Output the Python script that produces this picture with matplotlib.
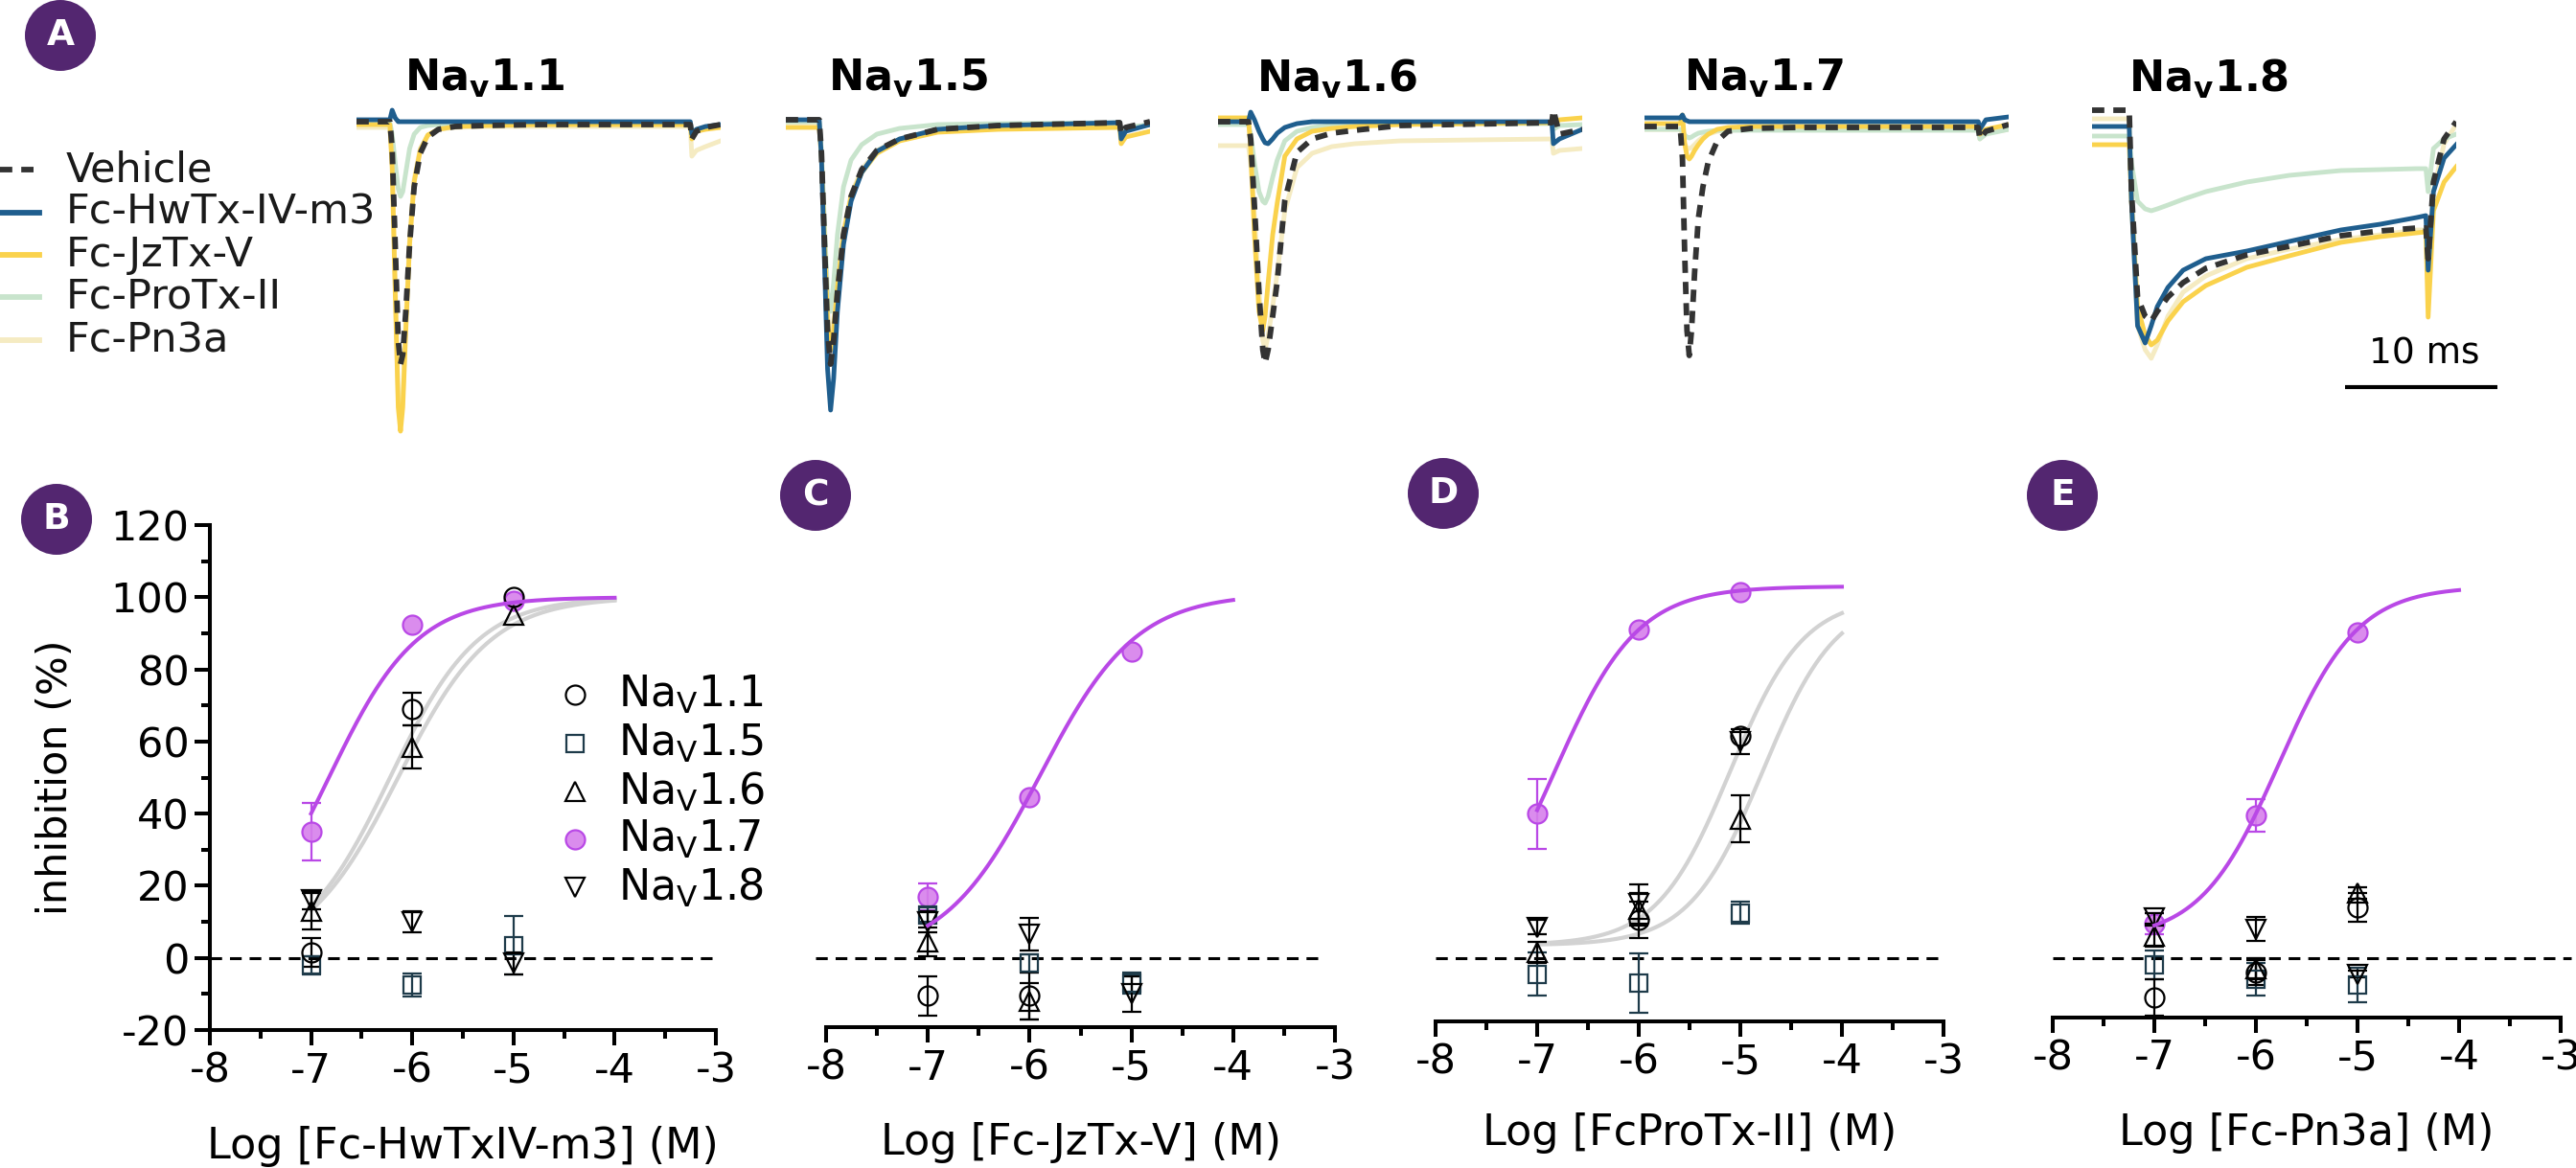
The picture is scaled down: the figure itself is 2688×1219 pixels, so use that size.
import numpy as np
import matplotlib
matplotlib.use('Agg')
import matplotlib.pyplot as plt
from matplotlib.lines import Line2D
from matplotlib.patches import Ellipse

W, H = 2688, 1219
plt.rcParams['font.family'] = ['DejaVu Sans']
plt.rcParams['mathtext.fontset'] = 'dejavusans'
plt.rcParams['axes.unicode_minus'] = False

# ---------------- Panel A: current traces (ms, normalised current) ----------------
trace_labels = ['Vehicle', 'Fc-HwTx-IV-m3', 'Fc-JzTx-V', 'Fc-ProTx-II', 'Fc-Pn3a']
channels = ['1.1', '1.5', '1.6', '1.7', '1.8']

t11 = [0, 2.2, 2.35, 2.55, 2.75, 2.9, 3.05, 3.25, 3.5, 3.8, 4.2, 4.7, 5.4, 6.5, 8.5, 12, 22.0, 22.1, 22.4, 23, 24]
nav11_vehicle = [-0.02, -0.02, -0.3, -1.3, -2.3, -2.55, -2.45, -2.0, -1.3, -0.7, -0.35, -0.18, -0.1, -0.07, -0.06, -0.05, -0.05, -0.2, -0.12, -0.08, -0.05]
nav11_hwtx = [0.0, 0.0, 0.1, 0.02, -0.02, -0.02, -0.02, -0.02, -0.02, -0.02, -0.02, -0.02, -0.02, -0.02, -0.02, -0.02, -0.02, -0.15, -0.1, -0.07, -0.05]
nav11_jztx = [-0.05, -0.05, -0.5, -1.8, -3.0, -3.25, -3.0, -2.2, -1.3, -0.65, -0.32, -0.16, -0.1, -0.07, -0.06, -0.05, -0.05, -0.2, -0.12, -0.1, -0.08]
nav11_protx = [-0.03, -0.03, -0.15, -0.45, -0.72, -0.8, -0.75, -0.55, -0.3, -0.15, -0.08, -0.06, -0.05, -0.04, -0.04, -0.04, -0.04, -0.15, -0.1, -0.08, -0.06]
nav11_pn3a = [-0.08, -0.08, -0.45, -1.7, -2.9, -3.15, -2.9, -2.1, -1.25, -0.62, -0.3, -0.16, -0.1, -0.08, -0.07, -0.07, -0.07, -0.38, -0.32, -0.28, -0.22]

t15 = [0, 2.2, 2.35, 2.55, 2.75, 2.95, 3.15, 3.4, 3.8, 4.3, 5.0, 6.0, 7.5, 10, 14, 22.0, 22.1, 22.4, 24]
nav15_vehicle = [0.0, 0.0, -0.35, -1.3, -2.2, -2.55, -2.3, -1.8, -1.2, -0.8, -0.52, -0.32, -0.2, -0.1, -0.06, -0.03, -0.15, -0.08, -0.02]
nav15_hwtx = [0.0, 0.0, -0.4, -1.5, -2.6, -3.03, -2.7, -2.0, -1.3, -0.85, -0.55, -0.33, -0.2, -0.1, -0.06, -0.03, -0.2, -0.12, -0.05]
nav15_jztx = [-0.08, -0.08, -0.4, -1.3, -2.1, -2.4, -2.2, -1.75, -1.2, -0.8, -0.55, -0.35, -0.22, -0.13, -0.1, -0.08, -0.25, -0.18, -0.12]
nav15_protx = [-0.02, -0.02, -0.35, -1.1, -1.8, -2.0, -1.7, -1.2, -0.7, -0.42, -0.26, -0.15, -0.09, -0.05, -0.04, -0.03, -0.15, -0.08, -0.05]
nav15_pn3a = [-0.03, -0.03, -0.35, -1.2, -2.0, -2.3, -2.1, -1.7, -1.15, -0.78, -0.52, -0.32, -0.2, -0.1, -0.06, -0.04, -0.15, -0.1, -0.05]

t16 = [0, 2.0, 2.15, 2.4, 2.7, 2.95, 3.1, 3.3, 3.6, 3.9, 4.4, 5.2, 6.2, 7.5, 9, 12, 22.0, 22.1, 22.5, 24]
nav16_vehicle = [-0.02, -0.02, -0.2, -0.9, -1.8, -2.4, -2.54, -2.4, -2.05, -1.69, -0.84, -0.34, -0.2, -0.14, -0.11, -0.06, -0.03, 0.1, -0.15, -0.1]
nav16_hwtx = [-0.02, -0.02, 0.08, 0.0, -0.12, -0.2, -0.24, -0.25, -0.2, -0.14, -0.08, -0.04, -0.02, -0.02, -0.02, -0.02, -0.02, -0.25, -0.2, -0.1]
nav16_jztx = [0.02, 0.02, -0.3, -1.2, -2.0, -2.2, -2.05, -1.7, -1.2, -0.87, -0.38, -0.2, -0.12, -0.09, -0.07, -0.05, -0.03, -0.05, 0.0, 0.02]
nav16_protx = [-0.05, -0.05, -0.15, -0.45, -0.75, -0.85, -0.87, -0.8, -0.6, -0.42, -0.22, -0.12, -0.08, -0.06, -0.05, -0.04, -0.04, -0.1, -0.06, -0.05]
nav16_pn3a = [-0.27, -0.27, -0.45, -1.0, -1.8, -2.3, -2.4, -2.25, -1.95, -1.6, -0.95, -0.5, -0.35, -0.28, -0.25, -0.22, -0.2, -0.35, -0.32, -0.3]

t17 = [0, 2.35, 2.5, 2.65, 2.8, 2.95, 3.1, 3.3, 3.55, 3.85, 4.2, 4.8, 5.5, 7, 10, 22.0, 22.1, 22.5, 24]
nav17_vehicle = [-0.07, -0.07, -0.4, -1.4, -2.2, -2.46, -2.2, -1.6, -1.03, -0.7, -0.44, -0.22, -0.12, -0.09, -0.08, -0.08, -0.2, -0.12, -0.05]
nav17_hwtx = [0.02, 0.02, 0.05, 0.0, -0.01, -0.02, -0.02, -0.02, -0.02, -0.02, -0.02, -0.02, -0.02, -0.02, -0.02, -0.02, -0.1, 0.0, 0.03]
nav17_jztx = [-0.04, -0.04, 0.05, -0.25, -0.38, -0.41, -0.38, -0.32, -0.26, -0.2, -0.15, -0.1, -0.08, -0.07, -0.07, -0.07, -0.15, -0.1, -0.05]
nav17_protx = [-0.1, -0.1, -0.12, -0.16, -0.18, -0.19, -0.18, -0.16, -0.14, -0.13, -0.12, -0.11, -0.11, -0.11, -0.11, -0.11, -0.2, -0.15, -0.1]
nav17_pn3a = [-0.1, -0.1, -0.15, -0.25, -0.3, -0.3, -0.29, -0.26, -0.22, -0.18, -0.15, -0.12, -0.11, -0.1, -0.1, -0.1, -0.2, -0.14, -0.1]

t18 = [0, 2.45, 2.6, 3.0, 3.5, 3.9, 4.3, 5.0, 6.0, 7.5, 10.2, 13, 16.4, 19, 21.4, 22.0, 22.15, 22.5, 23.2, 24]
nav18_vehicle = [0.1, 0.1, -0.75, -1.85, -2.05, -2.1, -2.0, -1.85, -1.7, -1.55, -1.41, -1.32, -1.21, -1.16, -1.13, -1.13, -1.45, -0.65, -0.2, -0.02]
nav18_hwtx = [-0.07, -0.07, -0.85, -2.15, -2.33, -2.15, -1.95, -1.75, -1.57, -1.45, -1.37, -1.27, -1.15, -1.09, -1.02, -1.0, -1.57, -0.75, -0.4, -0.26]
nav18_jztx = [-0.26, -0.26, -0.85, -1.95, -2.25, -2.35, -2.3, -2.1, -1.9, -1.73, -1.54, -1.42, -1.28, -1.22, -1.18, -1.17, -2.06, -0.95, -0.65, -0.49]
nav18_protx = [-0.17, -0.17, -0.45, -0.85, -0.93, -0.95, -0.93, -0.89, -0.83, -0.75, -0.65, -0.58, -0.53, -0.52, -0.51, -0.51, -0.75, -0.3, -0.2, -0.15]
nav18_pn3a = [0.01, 0.01, -0.85, -2.15, -2.4, -2.49, -2.35, -2.05, -1.8, -1.63, -1.45, -1.35, -1.25, -1.2, -1.15, -1.15, -1.55, -0.75, -0.25, -0.05]

# ---------------- Panels B-E: concentration-response ----------------
log_conc = [-7, -6, -5]
nan = np.nan
# B: Fc-HwTxIV-m3
B_nav11 = [1.6, 69, 100];    B_nav11_sem = [4, 4.5, nan]
B_nav15 = [-2, -7.5, 3.5];   B_nav15_sem = [2.5, 3.3, 8]
B_nav16 = [13, 58.5, 95];    B_nav16_sem = [5, 6, nan]
B_nav17 = [35, 92.5, 99];    B_nav17_sem = [8, nan, nan]
B_nav18 = [16, 10, -1.5];    B_nav18_sem = [2.5, 3, 3]
# C: Fc-JzTx-V
C_nav11 = [-10.5, -10.5, nan]; C_nav11_sem = [5.5, 6.5, nan]
C_nav15 = [12, -1.5, -7];      C_nav15_sem = [2, 2.5, 3]
C_nav16 = [4.5, -12, nan];     C_nav16_sem = [4, 5, nan]
C_nav17 = [17, 44.5, 85];      C_nav17_sem = [3.7, nan, nan]
C_nav18 = [10, 6.5, -10];      C_nav18_sem = [3, 4.5, 5]
# D: Fc-ProTx-II
D_nav11 = [nan, 10.5, 61.5];   D_nav11_sem = [nan, 5, nan]
D_nav15 = [-4.5, -7, 12.5];    D_nav15_sem = [6, 8.3, 3]
D_nav16 = [1.5, 13.5, 38.5];   D_nav16_sem = [3, 4.5, 6.5]
D_nav17 = [40, 91, 101.3];     D_nav17_sem = [9.7, nan, nan]
D_nav18 = [8.5, 15, 60];       D_nav18_sem = [2, 5.5, 3.5]
# E: Fc-Pn3a
E_nav11 = [-11, -4, 14];       E_nav11_sem = [5, 3.5, 4]
E_nav15 = [-2, -6, -7.5];      E_nav15_sem = [4, 4.5, 4.7]
E_nav16 = [6, -3, 18];         E_nav16_sem = [3, 3, 1.5]
E_nav17 = [9.5, 39.5, 90.2];   E_nav17_sem = [3, 4.4, nan]
E_nav18 = [11, 8, -4.5];       E_nav18_sem = [1.5, 3.3, 1]

# Hill-fit parameters: bottom, top, logIC50, slope
B_fit_nav17 = [0, 100, -6.824, 1.0]
B_fit_nav11 = [0, 100, -6.22, 1.0]
B_fit_nav16 = [0, 100, -6.14, 0.95]
C_fit_nav17 = [0, 101, -5.9, 0.92]
D_fit_nav17 = [0, 103, -6.83, 1.06]
D_fit_nav11 = [3.5, 100, -5.1, 1.2]
D_fit_nav16 = [3.5, 100, -4.78, 1.2]
E_fit_nav17 = [5, 103, -5.771, 1.116]

xlabels = ['Log [Fc-HwTxIV-m3] (M)', 'Log [Fc-JzTx-V] (M)', 'Log [FcProTx-II] (M)', 'Log [Fc-Pn3a] (M)']

# ---------------- styling ----------------
C_VEH = '#333333'
C_HW = '#1F5E8E'
C_JZ = '#FAD24C'
C_PRO = '#C8E4CC'
C_PN = '#F5EBC2'
PURPLE = '#B948E6'
PURPLE_FACE = (0.84, 0.50, 0.92, 0.9)
SQ = '#1E3B4A'
GRAY = '#D2D2D2'
BADGE = '#532670'

fig = plt.figure(figsize=(W / 100, H / 100), dpi=100)


def rect(x0, y0, x1, y1):
    return [x0 / W, 1 - y1 / H, (x1 - x0) / W, (y1 - y0) / H]


def fx(x):
    return x / W


def fy(y):
    return 1 - y / H


# ---- Panel A ----
trace_sets = [
    (t11, nav11_pn3a, nav11_protx, nav11_jztx, nav11_hwtx, nav11_vehicle),
    (t15, nav15_pn3a, nav15_protx, nav15_jztx, nav15_hwtx, nav15_vehicle),
    (t16, nav16_pn3a, nav16_protx, nav16_jztx, nav16_hwtx, nav16_vehicle),
    (t17, nav17_pn3a, nav17_protx, nav17_jztx, nav17_hwtx, nav17_vehicle),
    (t18, nav18_pn3a, nav18_protx, nav18_jztx, nav18_hwtx, nav18_vehicle),
]
trace_left = [372, 820, 1271, 1716, 2183]
title_cx = [505, 947, 1395, 1840, 2304]
trace_axes = []
for i, (left, ts) in enumerate(zip(trace_left, trace_sets)):
    ax = fig.add_axes(rect(left, 90, left + 380, 480))
    ax.set_xlim(0, 24)
    ax.set_ylim(-3.55, 0.35)
    ax.axis('off')
    t = ts[0]
    ax.plot(t, ts[1], color=C_PN, lw=3.5, solid_joinstyle='round', zorder=1)
    ax.plot(t, ts[2], color=C_PRO, lw=3.5, solid_joinstyle='round', zorder=2)
    ax.plot(t, ts[3], color=C_JZ, lw=3.5, solid_joinstyle='round', zorder=3)
    ax.plot(t, ts[4], color=C_HW, lw=3.5, solid_joinstyle='round', zorder=4)
    ax.plot(t, ts[5], color=C_VEH, lw=4.2, dashes=(2.2, 1.6), zorder=5)
    trace_axes.append(ax)
    fig.text(fx(title_cx[i]), fy(82), r'$\mathbf{Na_{v}' + channels[i] + '}$',
             ha='center', va='center', fontsize=32)

# scale bar 10 ms
ax8 = trace_axes[-1]
ax8.plot([16.7, 26.7], [-2.79, -2.79], color='black', lw=3, clip_on=False,
         solid_capstyle='butt')
fig.text(fx(2530), fy(370), '10 ms', ha='center', va='center', fontsize=27)

# legend A
legA_y = [177, 222, 266, 310, 355]
legA_style = [dict(color=C_VEH, lw=4.2, dashes=(2.2, 1.6)),
              dict(color=C_HW, lw=4.2), dict(color=C_JZ, lw=4.2),
              dict(color=C_PRO, lw=4.2), dict(color=C_PN, lw=4.2)]
for lab, yy, st in zip(trace_labels, legA_y, legA_style):
    fig.add_artist(Line2D([fx(0), fx(41)], [fy(yy), fy(yy)], transform=fig.transFigure, **st))
    fig.text(fx(69), fy(yy), lab, ha='left', va='center', fontsize=31, color='#1a1a1a')


# ---- Panels B-E ----
def hill(x, p):
    b, tp, c, h = p
    return b + (tp - b) / (1 + 10 ** ((c - x) * h))


panel_x = [(219, 747), (862, 1393), (1498, 2028), (2142, 2672)]
spine_pos = [-20, -19.2, -17.6, -16.5]
xlab_y = [1197, 1193, 1183, 1183]
zero_span = [(-8, -3), (-8.1, -3.1), (-8, -3), (-8, -2.9)]
data_sets = [
    (B_nav11, B_nav11_sem, B_nav15, B_nav15_sem, B_nav16, B_nav16_sem, B_nav17, B_nav17_sem, B_nav18, B_nav18_sem),
    (C_nav11, C_nav11_sem, C_nav15, C_nav15_sem, C_nav16, C_nav16_sem, C_nav17, C_nav17_sem, C_nav18, C_nav18_sem),
    (D_nav11, D_nav11_sem, D_nav15, D_nav15_sem, D_nav16, D_nav16_sem, D_nav17, D_nav17_sem, D_nav18, D_nav18_sem),
    (E_nav11, E_nav11_sem, E_nav15, E_nav15_sem, E_nav16, E_nav16_sem, E_nav17, E_nav17_sem, E_nav18, E_nav18_sem),
]
gray_fits = [[B_fit_nav11, B_fit_nav16], [], [D_fit_nav11, D_fit_nav16], []]
purple_fits = [B_fit_nav17, C_fit_nav17, D_fit_nav17, E_fit_nav17]

series_style = [
    dict(marker='o', mfc='none', mec='black', ecolor='black'),
    dict(marker='s', mfc='none', mec=SQ, ecolor=SQ),
    dict(marker='^', mfc='none', mec='black', ecolor='black'),
    dict(marker='o', mfc=PURPLE_FACE, mec=PURPLE, ecolor=PURPLE),
    dict(marker='v', mfc='none', mec='black', ecolor='black'),
]
msizes = [14.4, 13.0, 15.0, 14.4, 15.0]

xfit = np.linspace(-7, -4, 200)
for k in range(4):
    x0, x1 = panel_x[k]
    ax = fig.add_axes(rect(x0, 548, x1, 1075))
    ax.set_xlim(-8, -3)
    ax.set_ylim(-20, 120)
    for s in ['top', 'right']:
        ax.spines[s].set_visible(False)
    ax.spines['bottom'].set_linewidth(2.9)
    ax.spines['left'].set_linewidth(2.9)
    ax.spines['bottom'].set_position(('data', spine_pos[k]))
    ax.set_xticks([-8, -7, -6, -5, -4, -3])
    ax.set_xticks(np.arange(-7.5, -3, 1.0), minor=True)
    ax.tick_params(axis='x', which='major', direction='out', length=11.5, width=2.9,
                   labelsize=31, pad=4)
    ax.tick_params(axis='x', which='minor', direction='out', length=6.5, width=2.9)
    if k == 0:
        ax.set_yticks(np.arange(-20, 121, 20))
        ax.set_yticks(np.arange(-10, 120, 20), minor=True)
        ax.tick_params(axis='y', which='major', direction='out', length=11.5, width=2.9,
                       labelsize=31, pad=4)
        ax.tick_params(axis='y', which='minor', direction='out', length=6.5, width=2.9)
        ax.set_ylabel('inhibition (%)', fontsize=31)
        ax.yaxis.set_label_coords((58 - x0) / (x1 - x0), 0.5)
        ax.yaxis.label.set_va('center')
    else:
        ax.spines['left'].set_visible(False)
        ax.set_yticks([])
    ax.set_xlabel(xlabels[k], fontsize=32)
    ax.xaxis.set_label_coords(0.5, (1075 - xlab_y[k]) / 527)
    ax.xaxis.label.set_va('center')

    zs = zero_span[k]
    ax.hlines(0, zs[0], zs[1], colors='black', linestyles=(0, (4, 2.7)), lw=2.2,
              zorder=1, clip_on=False)
    for p in gray_fits[k]:
        ax.plot(xfit, hill(xfit, p), color=GRAY, lw=3.0, zorder=2)
    ax.plot(xfit, hill(xfit, purple_fits[k]), color=PURPLE, lw=2.9, zorder=6)

    ds = data_sets[k]
    order = [1, 0, 2, 4, 3]
    for j in order:
        st = series_style[j]
        ax.errorbar(log_conc, ds[2 * j], yerr=np.array(ds[2 * j + 1], dtype=float),
                    fmt=st['marker'], ms=msizes[j], mfc=st['mfc'], mec=st['mec'], mew=1.6,
                    ecolor=st['ecolor'], elinewidth=1.6, capsize=7, capthick=1.6,
                    linestyle='none', zorder=5 if j != 3 else 4, clip_on=False)

# legend in B
legB_y = [725, 776, 826, 876, 926]
for j, yy in enumerate(legB_y):
    st = series_style[j]
    fig.add_artist(Line2D([fx(600)], [fy(yy)], transform=fig.transFigure, marker=st['marker'],
                          ms=msizes[j], mfc=st['mfc'], mec=st['mec'], mew=1.6, linestyle='none'))
    fig.text(fx(645), fy(yy), r'$\mathrm{Na_{V}' + channels[j] + '}$', ha='left', va='center',
             fontsize=32)

# badges
badges = [('A', 63, 37), ('B', 59, 542), ('C', 851, 517), ('D', 1506, 515), ('E', 2152, 517)]
for lab, cx, cy in badges:
    fig.add_artist(Ellipse((fx(cx), fy(cy)), 74 / W, 74 / H, transform=fig.transFigure,
                           facecolor=BADGE, edgecolor='none'))
    fig.text(fx(cx), fy(cy), lab, ha='center', va='center', fontsize=27, color='white',
             fontweight='bold')

fig.savefig('out.png', dpi=100, facecolor='white')
